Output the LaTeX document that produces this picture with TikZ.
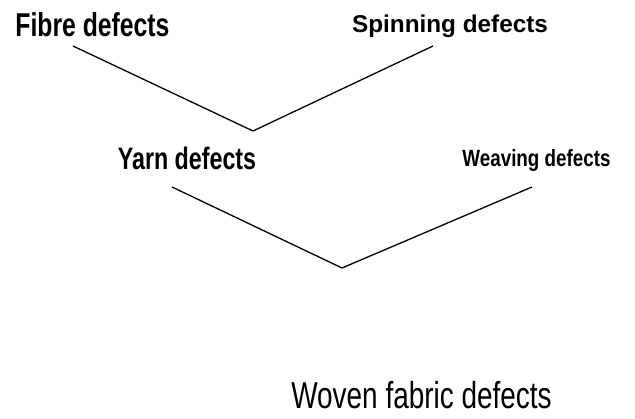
\documentclass[tikz,border=0pt]{standalone}
\usepackage{fontspec}
\newfontfamily\condboldA[FakeStretch=0.75]{Liberation Sans Bold}
\newfontfamily\condboldB[FakeStretch=0.8]{Liberation Sans Bold}
\newfontfamily\condreg[FakeStretch=0.745]{Liberation Sans}
\newfontfamily\widebold{Liberation Sans Bold}
\begin{document}
\begin{tikzpicture}[x=1pt,y=-1pt,
  lbl/.style={anchor=base,inner sep=0pt},
  link/.style={line width=1.3pt,black,line join=miter}]
\useasboundingbox (0,0) rectangle (635,419);
\node[lbl,font=\condboldA\fontsize{33}{36}\selectfont] (fibre) at (92.5,37) {Fibre defects};
\node[lbl,font=\widebold\fontsize{24.3}{28}\selectfont] (spin) at (450,33) {Spinning defects};
\node[lbl,font=\condboldA\fontsize{31}{34}\selectfont] (yarn) at (187,170) {Yarn defects};
\node[lbl,font=\condboldB\fontsize{23.5}{27}\selectfont] (weave) at (536.5,167) {Weaving defects};
\node[lbl,font=\condreg\fontsize{37.5}{42}\selectfont] (woven) at (421.5,409) {Woven fabric defects};
\coordinate (f1) at (73,46);
\coordinate (s1) at (433,46);
\coordinate (v1) at (253,131);
\coordinate (y1) at (172,187);
\coordinate (w1) at (532,187);
\coordinate (v2) at (342,268);
\draw[link] (f1) -- (v1) -- (s1);
\draw[link] (y1) -- (v2) -- (w1);
\end{tikzpicture}
\end{document}
